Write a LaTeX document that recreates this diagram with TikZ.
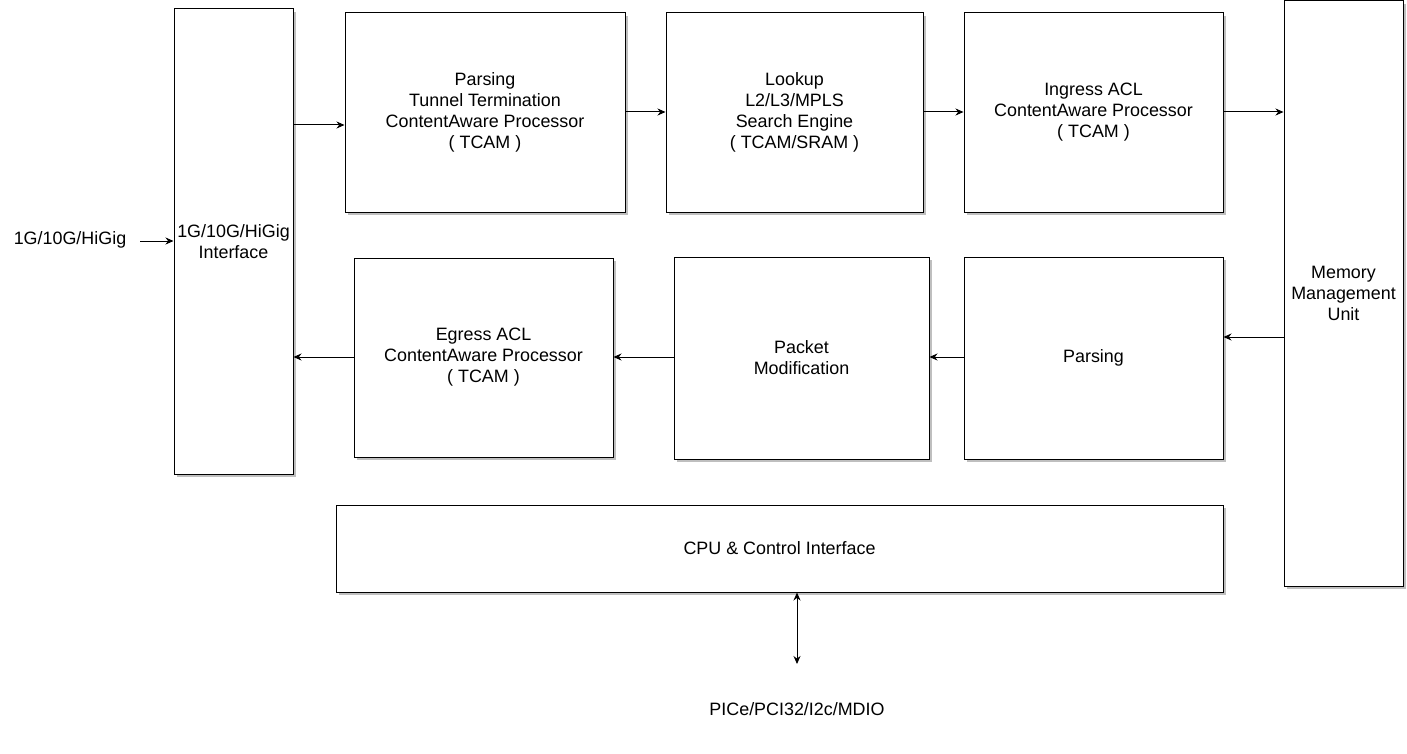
\documentclass[tikz,border=0pt]{standalone}
\usepackage{fontspec}
\setmainfont{Liberation Sans}
\usetikzlibrary{arrows.meta,shadows}
\begin{document}
\begin{tikzpicture}[x=1pt,y=-1pt,
  blk/.style={draw=black,line width=1pt,fill=white,inner sep=0pt,align=center,
    font=\fontsize{17.9}{21}\selectfont,
    drop shadow={shadow xshift=3pt,shadow yshift=-3pt,fill=black!25,opacity=1}},
  lbl/.style={inner sep=0pt,font=\fontsize{17.9}{21}\selectfont},
  arr/.style={line width=1pt,-{Stealth[length=8pt,width=7pt]}},
  darr/.style={line width=1pt,{Stealth[length=8pt,width=7pt]}-{Stealth[length=8pt,width=7pt]}}]
\useasboundingbox (0,0) rectangle (1407,754);
\newcommand{\blkbox}[6]{\node[blk,minimum width={#4-#2},minimum height={#5-#3}] (#1) at ({(#2+#4)/2},{(#3+#5)/2}) {#6};}
\blkbox{iface}{174}{9}{293}{474}{1G/10G/HiGig\\Interface}
\blkbox{parse}{345}{13}{625}{212}{Parsing\\Tunnel Termination\\ContentAware Processor\\( TCAM )}
\blkbox{look}{666}{13}{923}{212}{Lookup\\L2/L3/MPLS\\Search Engine\\( TCAM/SRAM )}
\blkbox{ingr}{964}{13}{1223}{212}{Ingress ACL\\ContentAware Processor\\( TCAM )}
\blkbox{mmu}{1284}{1}{1403}{586}{Memory\\Management\\Unit}
\blkbox{egr}{354}{258}{613}{457}{Egress ACL\\ContentAware Processor\\( TCAM )}
\blkbox{pmod}{674}{257}{929}{459}{Packet\\Modification}
\blkbox{pars2}{964}{257}{1223}{459}{Parsing}
\blkbox{cpu}{336}{505}{1223}{592}{CPU \& Control Interface}
\node[lbl] (inlbl) at (70,240) {1G/10G/HiGig};
\coordinate (inst) at (140,241);
\node[lbl] (buslbl) at (797,709) {PICe/PCI32/I2c/MDIO};
\coordinate (busend) at (797,664);
\draw[arr] (inst) -- (inst -| iface.west);
\draw[arr] (iface.east |- 0,125) -- (parse.west |- 0,125);
\draw[arr] (parse.east |- 0,112) -- (look.west |- 0,112);
\draw[arr] (look.east |- 0,112) -- (ingr.west |- 0,112);
\draw[arr] (ingr.east |- 0,112) -- (mmu.west |- 0,112);
\draw[arr] (mmu.west |- 0,337) -- (pars2.east |- 0,337);
\draw[arr] (pars2.west |- 0,357) -- (pmod.east |- 0,357);
\draw[arr] (pmod.west |- 0,357) -- (egr.east |- 0,357);
\draw[arr] (egr.west |- 0,357) -- (iface.east |- 0,357);
\draw[darr] (cpu.south -| busend) -- (busend);
\end{tikzpicture}
\end{document}
